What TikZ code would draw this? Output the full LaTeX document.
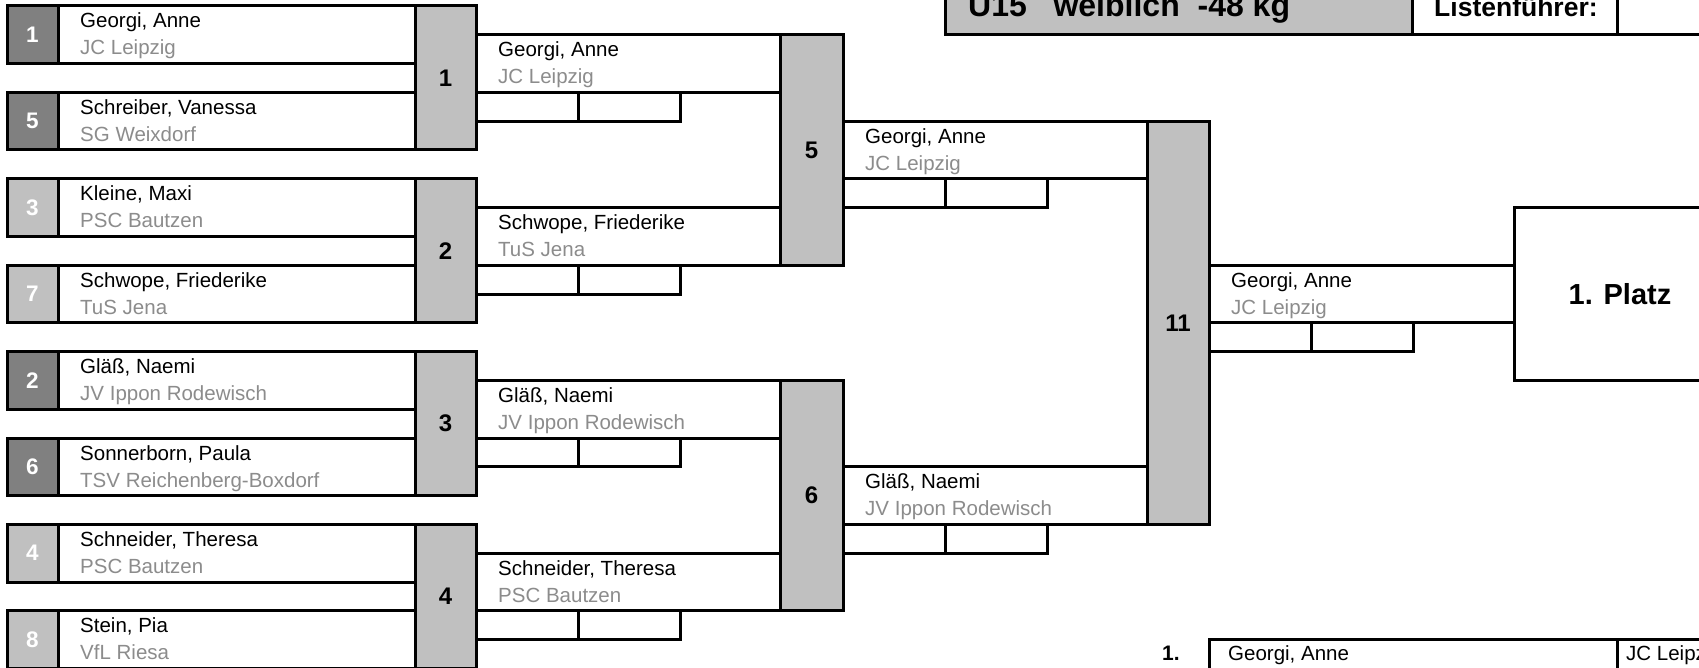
\documentclass[tikz,border=0pt]{standalone}
\usepackage{fontspec}
\setmainfont{Liberation Sans}
\definecolor{seeddark}{RGB}{128,128,128}
\definecolor{lightgr}{RGB}{192,192,192}
\definecolor{clubgr}{RGB}{140,140,140}
\newcommand\PlBox[6]{%
  \node[frame, minimum width=#4pt, minimum height=57.6pt] (#1) at (#2,#3) {};
  \node[nmtext] (#1-n) at ({#2+22},{#3+22}) {#5};
  \node[cltext] (#1-c) at ({#2+22},{#3+49}) {#6};
}
\newcommand\SeedBox[6]{%
  \node[seedbox, fill=#4] (#1-sd) at (7,#2) {#3};
  \PlBox{#1}{58}{#2}{357}{#5}{#6}
}
\newcommand\ScBox[3]{%
  \node[frame, minimum width=102pt, minimum height=28.8pt] (#1-a) at (#2,#3) {};
  \node[frame, minimum width=102pt, minimum height=28.8pt] (#1-b) at ({#2+102},#3) {};
}
\begin{document}
\begin{tikzpicture}[x=1pt,y=-1pt,
  frame/.style={draw, line width=3pt, outer sep=0pt, inner sep=0pt, anchor=north west},
  seedbox/.style={frame, minimum width=51pt, minimum height=57.6pt, text=white, font=\bfseries\fontsize{22.5}{26}\selectfont},
  colbox/.style={frame, fill=lightgr, font=\bfseries\fontsize{24}{28}\selectfont},
  nmtext/.style={anchor=base west, inner sep=0pt, font=\fontsize{20.5}{24}\selectfont},
  cltext/.style={nmtext, text=clubgr},
  hdtext/.style={anchor=base west, inner sep=0pt}]
\useasboundingbox (0,0) rectangle (1699,668);
\fill[white] (0,0) rectangle (1699,668);
\clip (0,0) rectangle (1699,668);

% header
\node[frame, fill=lightgr, minimum width=467pt, minimum height=80pt] (hd) at (945,-45.2) {};
\node[frame, minimum width=205pt, minimum height=80pt] (hdb) at (1412,-45.2) {};
\node[frame, minimum width=150pt, minimum height=80pt] (hdc) at (1617,-45.2) {};
\node[hdtext, font=\bfseries\fontsize{32}{36}\selectfont] (title) at (968,17) {U15\ \ \ weiblich\ \ -48 kg};
\node[hdtext, font=\bfseries\fontsize{26.5}{30}\selectfont] (lf) at (1434,17) {Listenführer:};

% round 1
\SeedBox{p1}{6}{1}{seeddark}{Georgi, Anne}{JC Leipzig}
\SeedBox{p5}{92.4}{5}{seeddark}{Schreiber, Vanessa}{SG Weixdorf}
\SeedBox{p3}{178.8}{3}{lightgr}{Kleine, Maxi}{PSC Bautzen}
\SeedBox{p7}{265.2}{7}{lightgr}{Schwope, Friederike}{TuS Jena}
\SeedBox{p2}{351.6}{2}{seeddark}{Gläß, Naemi}{JV Ippon Rodewisch}
\SeedBox{p6}{438}{6}{seeddark}{Sonnerborn, Paula}{TSV Reichenberg-Boxdorf}
\SeedBox{p4}{524.4}{4}{lightgr}{Schneider, Theresa}{PSC Bautzen}
\SeedBox{p8}{610.8}{8}{lightgr}{Stein, Pia}{VfL Riesa}

\node[colbox, minimum width=61pt, minimum height=144pt] (m1) at (415,6) {1};
\node[colbox, minimum width=61pt, minimum height=144pt] (m2) at (415,178.8) {2};
\node[colbox, minimum width=61pt, minimum height=144pt] (m3) at (415,351.6) {3};
\node[colbox, minimum width=61pt, minimum height=144pt] (m4) at (415,524.4) {4};

% round 2
\PlBox{q1}{476}{34.8}{304}{Georgi, Anne}{JC Leipzig}
\PlBox{q2}{476}{207.6}{304}{Schwope, Friederike}{TuS Jena}
\PlBox{q3}{476}{380.4}{304}{Gläß, Naemi}{JV Ippon Rodewisch}
\PlBox{q4}{476}{553.2}{304}{Schneider, Theresa}{PSC Bautzen}
\ScBox{q1s}{476}{92.4}
\ScBox{q2s}{476}{265.2}
\ScBox{q3s}{476}{438}
\ScBox{q4s}{476}{610.8}

\node[colbox, minimum width=63pt, minimum height=230.4pt] (m5) at (780,34.8) {5};
\node[colbox, minimum width=63pt, minimum height=230.4pt] (m6) at (780,380.4) {6};

% round 3
\PlBox{t1}{843}{121.2}{304}{Georgi, Anne}{JC Leipzig}
\PlBox{t2}{843}{466.8}{304}{Gläß, Naemi}{JV Ippon Rodewisch}
\ScBox{t1s}{843}{178.8}
\ScBox{t2s}{843}{524.4}

\node[colbox, minimum width=62pt, minimum height=403.2pt] (m11) at (1147,121.2) {11};

% final
\PlBox{f1}{1209}{265.2}{305}{Georgi, Anne}{JC Leipzig}
\ScBox{f1s}{1209}{322.8}
\node[frame, minimum width=212pt, minimum height=172.8pt, font=\bfseries\fontsize{29}{34}\selectfont] (platz) at (1514,207.6) {1. Platz};

% ranking
\node[frame, minimum width=408pt, minimum height=40pt] (rk1) at (1209,639.6) {};
\node[frame, minimum width=150pt, minimum height=40pt] (rk1c) at (1617,639.6) {};
\node[hdtext, font=\bfseries\fontsize{21}{24}\selectfont] (rk1l) at (1162,660) {1.};
\node[nmtext] (rk1n) at (1228,660) {Georgi, Anne};
\node[nmtext] (rk1k) at (1626,660) {JC Leipzig};
\end{tikzpicture}
\end{document}
